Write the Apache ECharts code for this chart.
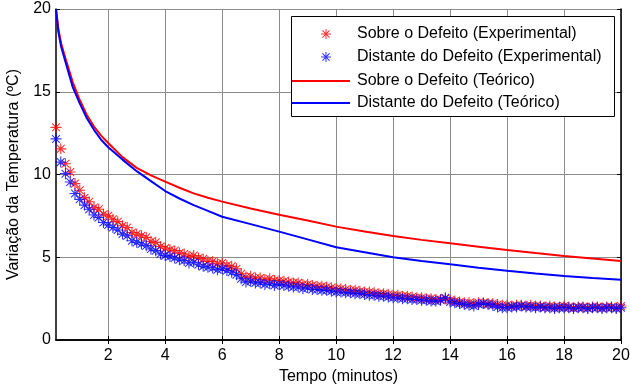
<!DOCTYPE html>
<html>
<head>
<meta charset="utf-8">
<script src="https://cdn.jsdelivr.net/npm/echarts@6/dist/echarts.min.js"></script>
<style>
  html, body { margin: 0; padding: 0; background: #fff; }
  #chart { width: 630px; height: 387px; }
</style>
</head>
<body>
<div id="chart"></div>
<script>
// Measured temperature rise, sampled every 10 s (1/6 min), from t = 1/6 to 20 min
const sampleStepMin = 1 / 6;
const expOnDefect = [
  12.85, 11.55, 10.65, 10.15, 9.45, 9.05, 8.6, 8.35, 8.0, 7.9, 7.6, 7.5,
  7.3, 7.15, 6.9, 6.8, 6.5, 6.4, 6.3, 6.2, 5.95, 5.9, 5.65, 5.55,
  5.45, 5.4, 5.25, 5.2, 5.05, 5.1, 4.95, 4.9, 4.75, 4.75, 4.6, 4.65,
  4.5, 4.45, 4.3, 4.0, 3.8, 3.85, 3.75, 3.75, 3.65, 3.7, 3.6, 3.6,
  3.55, 3.5, 3.45, 3.45, 3.35, 3.35, 3.3, 3.25, 3.25, 3.2, 3.15, 3.1,
  3.1, 3.05, 3.0, 3.0, 2.95, 2.9, 2.9, 2.85, 2.8, 2.8, 2.75, 2.7,
  2.7, 2.65, 2.65, 2.6, 2.55, 2.55, 2.5, 2.5, 2.45, 2.45, 2.5, 2.4,
  2.35, 2.3, 2.25, 2.25, 2.2, 2.25, 2.25, 2.2, 2.2, 2.15, 2.1, 2.1,
  2.05, 2.1, 2.1, 2.05, 2.1, 2.05, 2.05, 2.0, 2.05, 2.0, 2.0, 2.05,
  2.0, 1.95, 2.0, 2.0, 1.95, 2.0, 2.0, 1.95, 2.0, 2.0, 1.95, 2.05
];
const expAwayFromDefect = [
  12.15, 10.75, 10.05, 9.55, 8.85, 8.5, 8.15, 7.9, 7.55, 7.4, 7.1, 6.95,
  6.8, 6.65, 6.4, 6.3, 6.0, 5.9, 5.8, 5.7, 5.5, 5.4, 5.2, 5.1,
  5.05, 4.95, 4.85, 4.8, 4.65, 4.7, 4.55, 4.45, 4.4, 4.35, 4.25, 4.3,
  4.2, 4.1, 3.95, 3.7, 3.5, 3.55, 3.45, 3.45, 3.35, 3.4, 3.3, 3.35,
  3.3, 3.25, 3.2, 3.2, 3.1, 3.15, 3.05, 3.05, 3.0, 3.0, 2.95, 2.9,
  2.9, 2.85, 2.85, 2.8, 2.8, 2.75, 2.7, 2.7, 2.65, 2.65, 2.6, 2.55,
  2.55, 2.5, 2.5, 2.45, 2.45, 2.4, 2.4, 2.35, 2.35, 2.4, 2.55, 2.3,
  2.25, 2.2, 2.15, 2.1, 2.05, 2.15, 2.2, 2.15, 2.1, 2.0, 1.95, 1.95,
  2.0, 2.0, 2.05, 2.0, 2.0, 1.95, 2.0, 1.95, 1.95, 1.9, 1.95, 1.95,
  1.95, 1.9, 1.95, 1.95, 1.9, 1.95, 1.95, 1.9, 1.95, 1.95, 1.9, 1.95
];

// Model curves
const theoTimes = [0.1667, 0.25, 0.35, 0.5, 0.75, 1, 1.25, 1.5, 1.75, 2, 2.5, 3, 3.5, 4, 4.5, 5, 5.5, 6, 7, 8, 9, 10, 11, 12, 13, 14, 15, 16, 17, 18, 19, 20];
const theoOnDefect = [20, 18.8, 17.9, 17.0, 15.6, 14.5, 13.6, 12.9, 12.35, 11.9, 11.05, 10.4, 9.95, 9.57, 9.2, 8.86, 8.6, 8.36, 7.95, 7.57, 7.22, 6.85, 6.55, 6.28, 6.05, 5.84, 5.64, 5.44, 5.25, 5.07, 4.92, 4.77];
const theoAwayFromDefect = [20, 18.6, 17.7, 16.8, 15.3, 14.3, 13.4, 12.7, 12.1, 11.65, 10.9, 10.2, 9.6, 9.0, 8.55, 8.15, 7.8, 7.45, 7.0, 6.55, 6.08, 5.6, 5.3, 5.0, 4.78, 4.57, 4.37, 4.19, 4.02, 3.87, 3.75, 3.64];

const xTicks = [2, 4, 6, 8, 10, 12, 14, 16, 18, 20];
const seriesNames = [
  'Sobre o Defeito (Experimental)',
  'Distante do Defeito (Experimental)',
  'Sobre o Defeito (Teórico)',
  'Distante do Defeito (Teórico)'
];

const expTimes = expOnDefect.map((_, i) => (i + 1) * sampleStepMin);
const pair = (xs, ys) => ys.map((y, i) => [xs[i], y]);

const FONT = 'Liberation Sans, Arial, sans-serif';
const asterisk = 'path://M9 0h2v20h-2zM0 9h20v2h-20zM2.2 3.6L3.6 2.2L17.8 16.4L16.4 17.8zM16.4 2.2L17.8 3.6L3.6 17.8L2.2 16.4z';

const axisLineStyle = { color: '#000', width: 1.5 };
const labelStyle = { color: '#000', fontSize: 16, fontFamily: FONT };

const chart = echarts.init(document.getElementById('chart'), null, { renderer: 'canvas' });

function legendFor(name, top, isLine) {
  return isLine ? {
    data: [{ name: name, icon: 'rect' }], left: 292, top: top, orient: 'vertical', padding: 0,
    itemWidth: 58, itemHeight: 2, selectedMode: false,
    textStyle: { fontSize: 16, fontFamily: FONT, color: '#000', padding: [0, 0, 0, 2] }
  } : {
    data: [name], left: 321, top: top, orient: 'vertical', padding: 0,
    itemWidth: 10, itemHeight: 10, selectedMode: false,
    textStyle: { fontSize: 16, fontFamily: FONT, color: '#000', padding: [0, 0, 0, 21] }
  };
}

chart.setOption({
  animation: false,
  backgroundColor: '#fff',
  grid: { left: 56, right: 9, top: 9, bottom: 47, containLabel: false, outerBoundsMode: 'none' },
  xAxis: [{
    type: 'value', min: 1 / 6, max: 20,
    name: 'Tempo (minutos)', nameLocation: 'middle', nameGap: 28,
    nameTextStyle: labelStyle,
    axisLine: { lineStyle: axisLineStyle },
    axisTick: { inside: true, length: 4, customValues: xTicks, lineStyle: { color: '#000' } },
    axisLabel: { customValues: xTicks, margin: 8, ...labelStyle },
    splitLine: { show: true, lineStyle: { color: '#8c8c8c', width: 1 } }
  }, {
    type: 'value', min: 1 / 6, max: 20, position: 'top',
    axisLine: { lineStyle: axisLineStyle },
    axisTick: { inside: true, length: 4, customValues: xTicks, lineStyle: { color: '#000' } },
    axisLabel: { show: false, customValues: xTicks },
    splitLine: { show: false }
  }],
  yAxis: [{
    type: 'value', min: 0, max: 20, interval: 5,
    name: 'Variação da Temperatura (ºC)', nameLocation: 'middle', nameGap: 34,
    nameTextStyle: labelStyle,
    axisLine: { show: true, lineStyle: axisLineStyle },
    axisTick: { show: true, inside: true, length: 4, lineStyle: { color: '#000' } },
    axisLabel: { margin: 5, ...labelStyle },
    splitLine: { show: true, lineStyle: { color: '#8c8c8c', width: 1 } }
  }, {
    type: 'value', min: 0, max: 20, interval: 5, position: 'right',
    axisLine: { show: true, lineStyle: axisLineStyle },
    axisTick: { show: true, inside: true, length: 4, lineStyle: { color: '#000' } },
    axisLabel: { show: false },
    splitLine: { show: false }
  }],
  graphic: [{
    type: 'rect', z: 3,
    shape: { x: 291.5, y: 16.5, width: 323, height: 100 },
    style: { fill: '#fff', stroke: '#000', lineWidth: 1 }
  }],
  legend: [
    legendFor(seriesNames[0], 26, false),
    legendFor(seriesNames[1], 49, false),
    legendFor(seriesNames[2], 73, true),
    legendFor(seriesNames[3], 95, true)
  ],
  series: [{
    name: seriesNames[0], type: 'scatter',
    data: pair(expTimes, expOnDefect),
    symbol: asterisk, symbolSize: 11, symbolKeepAspect: true,
    itemStyle: { color: '#ff0000' }
  }, {
    name: seriesNames[1], type: 'scatter',
    data: pair(expTimes, expAwayFromDefect),
    symbol: asterisk, symbolSize: 11, symbolKeepAspect: true,
    itemStyle: { color: '#0000ff' }
  }, {
    name: seriesNames[2], type: 'line',
    data: pair(theoTimes, theoOnDefect),
    showSymbol: false, symbol: 'none',
    lineStyle: { color: '#ff0000', width: 2 }, itemStyle: { color: '#ff0000' }
  }, {
    name: seriesNames[3], type: 'line',
    data: pair(theoTimes, theoAwayFromDefect),
    showSymbol: false, symbol: 'none',
    lineStyle: { color: '#0000ff', width: 2 }, itemStyle: { color: '#0000ff' }
  }]
});
</script>
</body>
</html>
